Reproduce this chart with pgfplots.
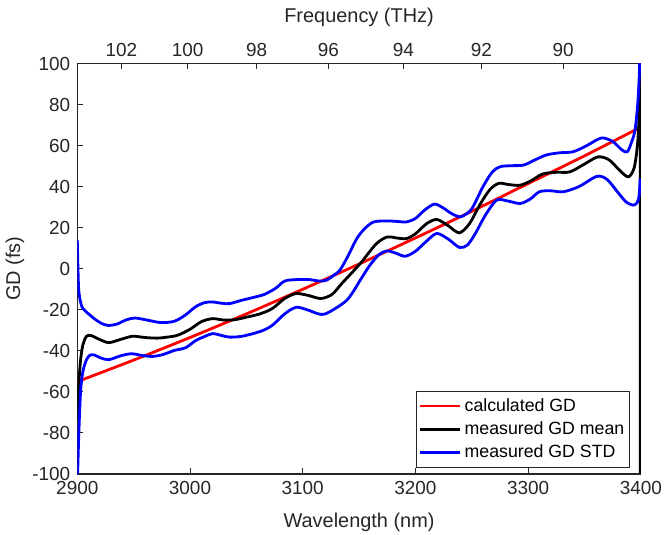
\documentclass[border=0pt]{standalone}
\usepackage{fontspec}
\setmainfont{Liberation Sans}
\usepackage{pgfplots}
\pgfplotsset{compat=1.18}
\definecolor{axgray}{HTML}{262626}
\definecolor{mred}{HTML}{FF0000}
\definecolor{mblue}{HTML}{0000FF}

\pgfplotsset{
  gdframe/.style={
    scale only axis, width=281.75bp, height=205.25bp,
    xmin=2900, xmax=3400, ymin=-100, ymax=100,
    axis line style={axgray, line width=0.5bp},
    tick style={axgray, line width=0.5bp},
    major tick length=3bp, tick align=inside,
    tick label style={font=\fontsize{9.5}{11}\selectfont, text=axgray},
    label style={font=\fontsize{10}{12}\selectfont, text=axgray},
    /pgf/number format/assume math mode=true,
    /pgf/number format/1000 sep={},
  }
}

\begin{document}
\begin{tikzpicture}
\path[use as bounding box] (-38.65bp,-30.5bp) rectangle (293.35bp,237bp);

% top axis: frequency scale (ticks at lambda = c/f)
\begin{axis}[gdframe,
  xtick pos=top, xticklabel pos=top, ytick=\empty,
  xtick={2939.14,2997.92,3059.11,3122.84,3189.28,3258.61,3331.03},
  xticklabels={102,100,98,96,94,92,90},
  xlabel={Frequency (THz)},
  xlabel style={at={(axis description cs:0.5,1.1133)}, anchor=center},
]
\addplot[draw=none] coordinates {(2900,0) (3400,0)};
\end{axis}

\begin{axis}[gdframe,
  xtick pos=bottom, ytick pos=left,
  xtick={2900,3000,3100,3200,3300,3400},
  ytick={-100,-80,-60,-40,-20,0,20,40,60,80,100},
  xlabel={Wavelength (nm)}, ylabel={GD (fs)},
  xlabel style={at={(axis description cs:0.5,-0.117)}, anchor=center},
  ylabel style={at={(axis description cs:-0.1107,0.5)}, anchor=center},
  legend style={at={(axis description cs:0.9805,0.0146)}, anchor=south east,
    draw=axgray, line width=0.5bp, fill=white,
    font=\fontsize{8.9}{10}\selectfont, text=black,
    inner xsep=1bp, inner ysep=1.5bp, row sep=0pt,
    nodes={inner sep=1.5bp, text height=6.9bp, text depth=1.8bp}},
  legend cell align=left,
  legend image code/.code={\draw[#1, line width=1.4bp] (0bp,0bp) -- (20bp,0bp);},
]
\addplot[mred, line width=1.4bp, smooth] coordinates {
(2900,-55) (2950,-44.5) (3000,-33.5) (3050,-22) (3100,-10) (3150,2.3)
(3200,15) (3250,28) (3300,41.5) (3350,55) (3400,69)};
\addlegendentry{calculated GD}

\addplot[black, line width=1.4bp, smooth, tension=0.5] coordinates {
(2900,-73) (2901.5,-55) (2903,-44) (2905,-37) (2908,-33) (2912,-32.5)
(2920,-34.5) (2928,-36) (2938,-34.5) (2949,-32.9) (2960,-33.5) (2971,-33.8)
(2980,-33.3) (2989,-32.4) (3000,-29.5) (3010,-25.8) (3020,-24.3) (3030,-25)
(3040,-24.8) (3050,-23.6) (3062,-22) (3073,-19.4) (3084,-14.5) (3094,-12.1)
(3105,-13) (3116,-14.5) (3126,-12.5) (3135,-7) (3151,2.5) (3165,12)
(3175,15.5) (3183,15) (3192,14.7) (3200,17) (3210,22) (3219,24)
(3229,21) (3239,17.5) (3248,22) (3257,31) (3266,38.5) (3274,41.6)
(3283,41) (3293,40.7) (3303,43) (3313,46.2) (3325,47) (3337,47.2)
(3350,51) (3362,54.5) (3372,53) (3382,47.5) (3389,44.8) (3394,49)
(3397,60) (3398.5,75) (3399.3,100)};
\addlegendentry{measured GD mean}
\addplot[black, line width=1.4bp, forget plot] coordinates {
(3399.3,100) (3399.5,150) (3399.55,-150)};

\addplot[mblue, line width=1.4bp, smooth, tension=0.5] coordinates {
(2900,14) (2900.6,0) (2901.3,-10.5) (2903,-16.5) (2905,-19.4) (2910,-22)
(2915,-24.3) (2921,-26.5) (2927,-27.6) (2935,-27) (2943,-25) (2951,-24)
(2962,-25) (2974,-26.2) (2986,-25.6) (2996,-22.5) (3005,-18.5) (3013,-16.5)
(3020,-16.2) (3028,-16.8) (3035,-17) (3045,-15.5) (3056,-14) (3066,-12.5)
(3076,-9.5) (3084,-6) (3094,-5.3) (3106,-5.3) (3115,-6) (3121,-5.6)
(3128,-3) (3133,-0.7) (3140,6) (3148,14.7) (3155,19.5) (3163,22.8)
(3175,23.3) (3185,23) (3192,22.8) (3200,24.5) (3208,28.5) (3217,31.5)
(3225,29.5) (3232,26.9) (3239.5,25.3) (3246,27) (3251,30.1) (3260,40)
(3268,47) (3275,49.7) (3285,50.2) (3296,50.5) (3306,53) (3316,55.4)
(3328,56.5) (3340,57) (3352,60) (3365,63.7) (3375,62) (3383,58)
(3388,57) (3392,62) (3395,68) (3397.5,82) (3399,100) (3399.5,120)};
\addlegendentry{measured GD STD}

\addplot[mblue, line width=1.4bp, smooth, tension=0.5, forget plot] coordinates {
(2900,-110) (2900.3,-100) (2901.5,-78) (2903,-59) (2905,-50) (2908,-44.5)
(2911,-42.2) (2915,-42) (2921,-43.5) (2928,-44.3) (2938,-42.5) (2948,-41.4)
(2958,-42.3) (2967,-42.7) (2976,-41.8) (2986,-39.8) (2996,-38.5) (3005,-35)
(3013,-33) (3020,-31.6) (3028,-32.5) (3035,-33.3) (3045,-33) (3056,-31.6)
(3065,-30) (3073,-27.6) (3084,-22) (3094,-18.8) (3104,-20) (3114,-22)
(3120,-22) (3130,-19) (3139,-15.4) (3145,-11) (3151,-5.6) (3160,2)
(3168,7) (3175,8.7) (3183,7.5) (3191,6.1) (3200,8.5) (3210,13.5)
(3219,17.2) (3229,14.5) (3239,10.4) (3246,11.5) (3253,17) (3262,26)
(3272,33.4) (3282,33) (3293,31.8) (3302,34) (3310,37.5) (3320,38)
(3331,37.5) (3345,40) (3361,45) (3370,43.5) (3380,37) (3387,32.5)
(3393,31) (3396.5,32) (3398.5,35.5) (3399.4,44)};
\end{axis}
\end{tikzpicture}
\end{document}
